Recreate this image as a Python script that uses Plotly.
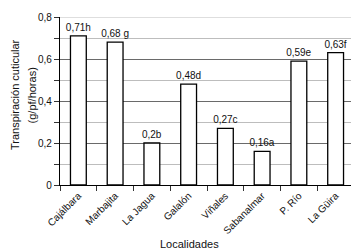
import plotly.graph_objects as go

localidades = ["Cajálbara", "Marbajita", "La Jagua", "Galalón", "Viñales", "Sabanalmar", "P. Río", "La Güira"]
valores = [0.71, 0.68, 0.2, 0.48, 0.27, 0.16, 0.59, 0.63]
etiquetas = ["0,71h", "0,68 g", "0,2b", "0,48d", "0,27c", "0,16a", "0,59e", "0,63f"]

FONT = "Liberation Sans, Arial, sans-serif"

fig = go.Figure(
    go.Bar(
        x=localidades,
        y=valores,
        text=etiquetas,
        textposition="outside",
        constraintext="none",
        textfont=dict(size=10, color="#111", family=FONT),
        cliponaxis=False,
        width=0.43,
        marker=dict(color="white", line=dict(color="black", width=1.3)),
    )
)

# The page body has an 8px default margin, so the figure is sized to fit the window.
fig.update_layout(
    width=351,
    height=243,
    margin=dict(l=52, r=5, t=9, b=66, autoexpand=False),
    paper_bgcolor="white",
    plot_bgcolor="white",
    separators=",.",
    showlegend=False,
    font=dict(family=FONT, size=10, color="#111"),
    shapes=[
        dict(type="line", xref="paper", yref="y", x0=0, x1=1, y0=0.8, y1=0.8,
             line=dict(color="#bdbdbd", width=1.2), layer="below"),
        dict(type="line", xref="paper", yref="paper", x0=1, x1=1, y0=0, y1=1,
             line=dict(color="#444", width=1.2), layer="above"),
    ],
    annotations=[
        dict(text="Localidades", xref="paper", yref="paper", x=0.442, y=-0.351,
             xanchor="center", yanchor="middle", showarrow=False,
             font=dict(size=11, family=FONT, color="#111")),
        dict(text="Transpiración cuticular", xref="paper", yref="paper",
             x=-0.153, y=0.536, xanchor="center", yanchor="middle", textangle=-90,
             showarrow=False, font=dict(size=11, family=FONT, color="#111")),
        dict(text="(g/pf/horas)", xref="paper", yref="paper",
             x=-0.097, y=0.536, xanchor="center", yanchor="middle", textangle=-90,
             showarrow=False, font=dict(size=11, family=FONT, color="#111")),
    ],
)

fig.update_xaxes(
    type="category",
    tickangle=-45,
    tickson="boundaries",
    ticks="outside",
    ticklen=5,
    tickcolor="#333",
    showline=True,
    linecolor="black",
    linewidth=1.2,
    showgrid=False,
    automargin=False,
    tickfont=dict(size=10, family=FONT),
)

fig.update_yaxes(
    range=[0, 0.8],
    dtick=0.2,
    ticks="outside",
    ticklen=5,
    tickcolor="#333",
    showline=True,
    linecolor="black",
    linewidth=1.2,
    showgrid=True,
    gridcolor="#6a6a6a",
    gridwidth=1.2,
    zeroline=False,
    automargin=False,
    tickfont=dict(size=10, family=FONT),
    minor=dict(dtick=0.1, showgrid=True, gridcolor="#bdbdbd", gridwidth=1.2,
               ticks="outside", ticklen=5, tickcolor="#333"),
)

fig.write_html("out.html")
